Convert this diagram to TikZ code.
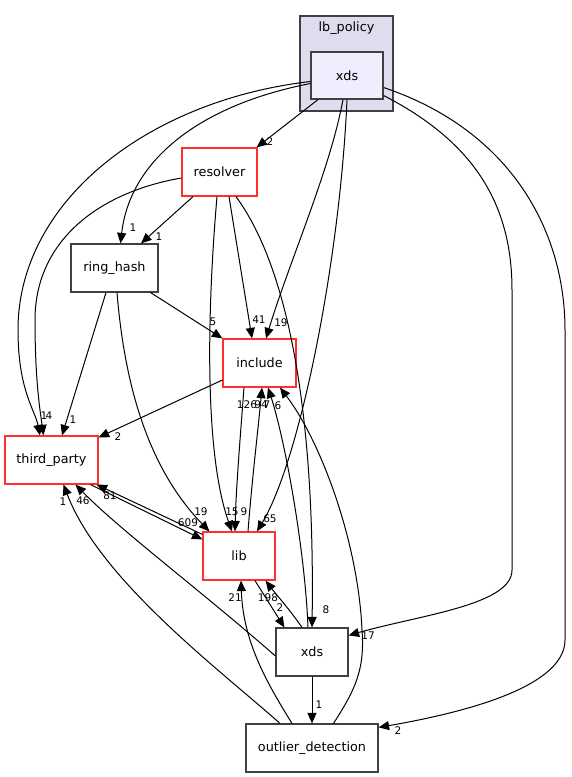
\documentclass[tikz,border=0pt]{standalone}
\usepackage{fontspec}
\setmainfont{DejaVu Sans}
\usetikzlibrary{arrows.meta}
\definecolor{redb}{HTML}{FF3030}
\definecolor{greyb}{HTML}{404040}
\definecolor{clusterfill}{HTML}{DDDDEE}
\definecolor{xdsfill}{HTML}{EEEEFF}
\begin{document}
\begin{tikzpicture}[x=1pt,y=-1pt,
  box/.style={draw=greyb, line width=1.2pt, fill=white, inner sep=0pt, font=\fontsize{12.8}{15}\selectfont},
  redbox/.style={box, draw=redb},
  lbl/.style={font=\fontsize{10.5}{12}\selectfont, inner sep=0pt},
  e/.style={draw=black, line width=1pt, -{Triangle[length=10.5pt,width=9pt]}}]
\useasboundingbox (0,0) rectangle (571,777);
% cluster
\node[draw=greyb, fill=clusterfill, line width=1.2pt, minimum width=93pt, minimum height=95pt, inner sep=0pt] (cl) at (346.5,63.5) {};
\node[font=\fontsize{12.8}{15}\selectfont, inner sep=0pt] (cltitle) at (346.5,28) {lb\_policy};
% nodes
\node[box, fill=xdsfill, minimum width=72pt, minimum height=47pt] (xdsT) at (347,75.5) {xds};
\node[redbox, minimum width=75pt, minimum height=48pt] (resolver) at (219.5,172) {resolver};
\node[box, minimum width=87pt, minimum height=48pt] (ring) at (114.5,268) {ring\_hash};
\node[redbox, minimum width=73pt, minimum height=48pt] (include) at (259.5,363) {include};
\node[redbox, minimum width=93pt, minimum height=48pt] (third) at (51.5,460) {third\_party};
\node[redbox, minimum width=72pt, minimum height=48pt] (lib) at (239,556) {lib};
\node[box, minimum width=72pt, minimum height=48pt] (xdsB) at (312,652) {xds};
\node[box, minimum width=132pt, minimum height=48pt] (outlier) at (312,748) {outlier\_detection};
% edges
\draw[e] ([xshift=-29pt]xdsT.south) -- ([xshift=-1pt]resolver.north east);
\draw[e] ([yshift=-8pt]xdsT.west) .. controls (200,105) and (130,160) .. ([xshift=6pt]ring.north);
\draw[e] ([yshift=-6pt]xdsT.west) .. controls (150,100) and (18,200) .. (18,330) .. controls (18,390) and (35,410) .. ([xshift=-11.5pt]third.north);
\draw[e] ([yshift=-6pt]resolver.west) .. controls (100,192) and (35,240) .. (35,320) .. controls (35,380) and (40,410) .. ([xshift=-8pt]third.north);
\draw[e] ([xshift=-8.5pt]ring.south) -- ([xshift=10.5pt]third.north);
\draw[e] ([xshift=-8pt]ring.south east) -- (include.north west);
\draw[e] ([xshift=2.5pt]ring.south) .. controls (125,390) and (150,470) .. ([xshift=7pt]lib.north west);
\draw[e] ([xshift=-26.5pt]resolver.south) -- ([xshift=26.5pt]ring.north);
\draw[e] ([xshift=9.5pt]resolver.south) -- ([xshift=-7.5pt]include.north);
\draw[e] ([xshift=-2.5pt]resolver.south) .. controls (208,300) and (203,450) .. ([xshift=-7pt]lib.north);
\draw[e] ([xshift=16.5pt]resolver.south) .. controls (290,270) and (315,420) .. (xdsB.north);
\draw[e] ([xshift=-4pt]xdsT.south) .. controls (330,170) and (290,260) .. ([xshift=6.5pt]include.north);
\draw[e] (xdsT.south) .. controls (340,260) and (300,460) .. ([xshift=18pt]lib.north);
\draw[e] ([yshift=-20pt]xdsT.east) .. controls (470,140) and (512,200) .. (512,290) -- (512,570) .. controls (512,605) and (420,615) .. ([yshift=-8pt]xdsB.north east);
\draw[e] ([yshift=-12pt]xdsT.east) .. controls (510,130) and (565,230) .. (565,330) -- (565,640) .. controls (565,690) and (450,715) .. ([yshift=-4pt]outlier.north east);
\draw[e] ([yshift=-17pt]include.west) -- ([yshift=-2pt]third.north east);
\draw[e] ([xshift=-15.5pt]include.south) .. controls (240,440) and (236,490) .. ([xshift=-4pt]lib.north);
\draw[e] ([xshift=9pt]lib.north) .. controls (252,480) and (258,430) .. ([xshift=2.5pt]include.south);
\draw[e] ([xshift=-4pt]xdsB.north) .. controls (305,550) and (285,440) .. ([xshift=8.5pt]include.south);
\draw[e] ([xshift=21.5pt]outlier.north) .. controls (355,690) and (365,670) .. (362,630) .. controls (358,540) and (320,440) .. ([xshift=20.5pt]include.south);
\draw[e] ([xshift=16pt]lib.south) -- ([xshift=9pt]xdsB.north west);
\draw[e] ([xshift=-10pt]xdsB.north) .. controls (290,610) and (275,593) .. ([xshift=-10pt]lib.south east);
\draw[e] ([xshift=-20pt]outlier.north) .. controls (265,680) and (243,640) .. ([xshift=2pt]lib.south);
\draw[e] (xdsB.south) -- (outlier.north);
\draw[e] ([xshift=-32pt]outlier.north) .. controls (220,670) and (100,580) .. ([xshift=12pt]third.south);
\draw[e] ([yshift=-4pt]xdsB.west) .. controls (200,590) and (120,530) .. ([xshift=24pt]third.south);
\draw[e] ([yshift=-3pt]lib.north west) -- ([xshift=-2pt]third.south east);
\draw[e] ([xshift=-8pt]third.south east) -- ([yshift=-8pt]lib.north west);
% labels
\node[lbl] (l1) at (270,142) {2};
\node[lbl] (l2) at (133,228) {1};
\node[lbl] (l3) at (159,237) {1};
\node[lbl] (l4) at (44,416) {1};
\node[lbl] (l5) at (49,416) {4};
\node[lbl] (l6) at (73,420) {1};
\node[lbl] (l7) at (213,322) {5};
\node[lbl] (l8) at (259,320) {41};
\node[lbl] (l9) at (281,323) {19};
\node[lbl] (l10) at (247,405) {126};
\node[lbl] (l11) at (261,405) {94};
\node[lbl] (l12) at (267,405) {7};
\node[lbl] (l13) at (278,406) {6};
\node[lbl] (l14) at (118,437) {2};
\node[lbl] (l15) at (63,502) {1};
\node[lbl] (l16) at (83,501) {46};
\node[lbl] (l17) at (110,496) {81};
\node[lbl] (l18) at (201,512) {19};
\node[lbl] (l19) at (188,523) {609};
\node[lbl] (l20) at (232,512) {15};
\node[lbl] (l21) at (244,512) {9};
\node[lbl] (l22) at (270,519) {65};
\node[lbl] (l23) at (235,598) {21};
\node[lbl] (l24) at (268,598) {198};
\node[lbl] (l25) at (280,608) {2};
\node[lbl] (l26) at (326,610) {8};
\node[lbl] (l27) at (368,636) {17};
\node[lbl] (l28) at (319,705) {1};
\node[lbl] (l29) at (398,731) {2};
\end{tikzpicture}
\end{document}
